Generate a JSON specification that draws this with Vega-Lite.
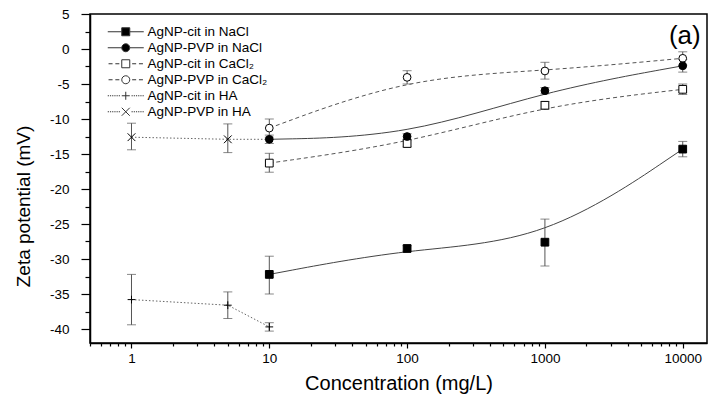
{
  "$schema": "https://vega.github.io/schema/vega-lite/v6.json",
  "width": 617,
  "height": 329,
  "autosize": {"type": "none"},
  "padding": {"left": 90, "top": 14, "right": 6, "bottom": 55},
  "background": "white",
  "config": {
    "font": "Liberation Sans",
    "view": {"stroke": "black", "strokeWidth": 1.5},
    "axis": {"grid": false, "domainColor": "black", "domainWidth": 1.5, "tickColor": "black", "tickWidth": 1.2, "labelColor": "black", "labelFontSize": 13.5, "titleColor": "black", "titleFontWeight": "normal", "labelFont": "Liberation Sans", "titleFont": "Liberation Sans"},
    "legend": {"labelFont": "Liberation Sans", "labelFontSize": 13.5, "labelColor": "black", "labelOffset": 15, "rowPadding": 1, "symbolSize": 64, "symbolStrokeColor": "#333", "symbolStrokeWidth": 1, "labelLimit": 300, "padding": 0}
  },
  "data": {
    "values": [
      {"series": "AgNP-cit in HA", "conc": 1, "zeta": -35.8, "lo": -39.4, "hi": -32.2},
      {"series": "AgNP-cit in HA", "conc": 5, "zeta": -36.6, "lo": -38.5, "hi": -34.7},
      {"series": "AgNP-cit in HA", "conc": 10, "zeta": -39.7, "lo": -40.3, "hi": -39.1},
      {"series": "AgNP-PVP in HA", "conc": 1, "zeta": -12.6, "lo": -14.4, "hi": -10.6},
      {"series": "AgNP-PVP in HA", "conc": 5, "zeta": -12.9, "lo": -14.8, "hi": -10.7},
      {"series": "AgNP-PVP in HA", "conc": 10, "zeta": -12.9, "lo": -13.3, "hi": -12.5},
      {"series": "AgNP-cit in CaCl₂", "conc": 10, "zeta": -16.3, "lo": -17.6, "hi": -14.9},
      {"series": "AgNP-cit in CaCl₂", "conc": 100, "zeta": -13.5, "lo": -14.0, "hi": -13.0},
      {"series": "AgNP-cit in CaCl₂", "conc": 1000, "zeta": -8.04, "lo": -8.6, "hi": -7.5},
      {"series": "AgNP-cit in CaCl₂", "conc": 10000, "zeta": -5.76, "lo": -6.5, "hi": -5.0},
      {"series": "AgNP-PVP in CaCl₂", "conc": 10, "zeta": -11.3, "lo": -12.6, "hi": -10.0},
      {"series": "AgNP-PVP in CaCl₂", "conc": 100, "zeta": -4.05, "lo": -5.0, "hi": -3.1},
      {"series": "AgNP-PVP in CaCl₂", "conc": 1000, "zeta": -3.14, "lo": -4.3, "hi": -1.9},
      {"series": "AgNP-PVP in CaCl₂", "conc": 10000, "zeta": -1.33, "lo": -2.3, "hi": -0.4},
      {"series": "AgNP-cit in NaCl", "conc": 10, "zeta": -32.2, "lo": -35.0, "hi": -29.6},
      {"series": "AgNP-cit in NaCl", "conc": 100, "zeta": -28.5, "lo": -28.9, "hi": -28.1},
      {"series": "AgNP-cit in NaCl", "conc": 1000, "zeta": -27.6, "lo": -31.0, "hi": -24.3},
      {"series": "AgNP-cit in NaCl", "conc": 10000, "zeta": -14.3, "lo": -15.4, "hi": -13.2},
      {"series": "AgNP-PVP in NaCl", "conc": 10, "zeta": -12.9, "lo": -13.5, "hi": -12.3},
      {"series": "AgNP-PVP in NaCl", "conc": 100, "zeta": -12.5, "lo": -12.9, "hi": -12.1},
      {"series": "AgNP-PVP in NaCl", "conc": 1000, "zeta": -5.96, "lo": -6.4, "hi": -5.5},
      {"series": "AgNP-PVP in NaCl", "conc": 10000, "zeta": -2.4, "lo": -3.3, "hi": -1.5}
    ]
  },
  "encoding": {
    "x": {
      "field": "conc", "type": "quantitative",
      "scale": {"type": "log", "domain": [0.5, 15000], "nice": false},
      "axis": {
        "title": "Concentration (mg/L)", "titleFontSize": 20, "titlePadding": 9,
        "values": [0.5,0.6,0.7,0.8,0.9,1,2,3,4,5,6,7,8,9,10,20,30,40,50,60,70,80,90,100,200,300,400,500,600,700,800,900,1000,2000,3000,4000,5000,6000,7000,8000,9000,10000],
        "labelExpr": "indexof([1,10,100,1000,10000], datum.value) >= 0 ? '' + datum.value : ''",
        "labelOverlap": false, "labelFlush": false, "labelPadding": 3,
        "tickSize": {"condition": {"test": "indexof([1,10,100,1000,10000], datum.value) >= 0", "value": 5}, "value": 3}
      }
    },
    "y": {
      "field": "zeta", "type": "quantitative",
      "scale": {"domain": [-42, 5], "nice": false, "zero": false},
      "axis": {
        "title": "Zeta potential (mV)", "titleFontSize": 19, "titlePadding": 16, "titleY": 192,
        "values": [-40,-37.5,-35,-32.5,-30,-27.5,-25,-22.5,-20,-17.5,-15,-12.5,-10,-7.5,-5,-2.5,0,2.5,5],
        "labelExpr": "datum.value % 5 == 0 ? '' + datum.value : ''",
        "labelPadding": 12, "labelOverlap": false,
        "tickSize": {"condition": {"test": "datum.value % 5 == 0", "value": 9}, "value": 5}
      }
    }
  },
  "layer": [
    {
      "transform": [{"filter": {"field": "series", "oneOf": ["AgNP-cit in NaCl", "AgNP-PVP in NaCl"]}}],
      "mark": {"type": "line", "interpolate": "basis", "color": "#444", "strokeWidth": 1},
      "encoding": {"detail": {"field": "series"}}
    },
    {
      "transform": [{"filter": {"field": "series", "oneOf": ["AgNP-cit in CaCl₂", "AgNP-PVP in CaCl₂"]}}],
      "mark": {"type": "line", "interpolate": "basis", "color": "#555", "strokeWidth": 1, "strokeDash": [4, 3]},
      "encoding": {"detail": {"field": "series"}}
    },
    {
      "transform": [{"filter": {"field": "series", "oneOf": ["AgNP-cit in HA", "AgNP-PVP in HA"]}}],
      "mark": {"type": "line", "interpolate": "linear", "color": "#666", "strokeWidth": 1, "strokeDash": [1.5, 2]},
      "encoding": {"detail": {"field": "series"}}
    },
    {
      "transform": [{"filter": "!(datum.series == 'AgNP-PVP in HA' && datum.conc == 10)"}],
      "mark": {"type": "errorbar", "ticks": {"size": 9}, "color": "#555", "thickness": 1},
      "encoding": {
        "y": {"field": "lo", "type": "quantitative", "title": "Zeta potential (mV)"},
        "y2": {"field": "hi"}
      }
    },
    {
      "transform": [{"filter": "!(datum.series == 'AgNP-PVP in HA' && datum.conc == 10)"}],
      "mark": {"type": "point", "stroke": "black", "strokeWidth": 1, "size": 60, "opacity": 1, "fillOpacity": 1},
      "encoding": {
        "shape": {"field": "series", "type": "nominal",
          "scale": {"domain": ["AgNP-cit in NaCl", "AgNP-PVP in NaCl", "AgNP-cit in CaCl₂", "AgNP-PVP in CaCl₂", "AgNP-cit in HA", "AgNP-PVP in HA"],
                    "range": ["square", "circle", "square", "circle", "M-1,0L1,0M0,-1L0,1", "M-1,-1L1,1M-1,1L1,-1"]},
          "legend": null},
        "fill": {"field": "series", "type": "nominal",
          "scale": {"domain": ["AgNP-cit in NaCl", "AgNP-PVP in NaCl", "AgNP-cit in CaCl₂", "AgNP-PVP in CaCl₂", "AgNP-cit in HA", "AgNP-PVP in HA"],
                    "range": ["black", "black", "white", "white", "transparent", "transparent"]},
          "legend": null}
      }
    },
    {
      "transform": [{"filter": "false"}],
      "mark": {"type": "point", "strokeWidth": 1, "size": 64, "opacity": 1, "fillOpacity": 1},
      "encoding": {
        "shape": {"field": "series", "type": "nominal",
          "scale": {"domain": ["AgNP-cit in NaCl", "AgNP-PVP in NaCl", "AgNP-cit in CaCl₂", "AgNP-PVP in CaCl₂", "AgNP-cit in HA", "AgNP-PVP in HA"],
                    "range": [
                      "M-4.5,0L-1,0M1,0L4.5,0M-1,-1L1,-1L1,1L-1,1Z",
                      "M-4.5,0L-1,0M1,0L4.5,0M-1,0A1,1,0,1,0,1,0A1,1,0,1,0,-1,0Z",
                      "M-4.3,0L-3.3,0M-2.6,0L-1.6,0M1.6,0L2.6,0M3.3,0L4.3,0M-1,-1L1,-1L1,1L-1,1Z",
                      "M-4.3,0L-3.3,0M-2.6,0L-1.6,0M1.6,0L2.6,0M3.3,0L4.3,0M-1,0A1,1,0,1,0,1,0A1,1,0,1,0,-1,0Z",
                      "M-4.5,0L-4.2,0M-3.95,0L-3.65,0M-3.4,0L-3.1,0M-2.85,0L-2.55,0M-2.3,0L-2,0M-1.75,0L-1.45,0M1.45,0L1.75,0M2,0L2.3,0M2.55,0L2.85,0M3.1,0L3.4,0M3.65,0L3.95,0M4.2,0L4.5,0M-1,0L1,0M0,-1L0,1",
                      "M-4.5,0L-4.2,0M-3.95,0L-3.65,0M-3.4,0L-3.1,0M-2.85,0L-2.55,0M-2.3,0L-2,0M-1.75,0L-1.45,0M1.45,0L1.75,0M2,0L2.3,0M2.55,0L2.85,0M3.1,0L3.4,0M3.65,0L3.95,0M4.2,0L4.5,0M-1,-1L1,1M-1,1L1,-1"
                    ]},
          "legend": {"orient": "none", "legendX": 29, "legendY": 11, "title": null, "labelFontSize": 13.5, "labelOffset": 15, "rowPadding": 1}},
        "fill": {"field": "series", "type": "nominal",
          "scale": {"domain": ["AgNP-cit in NaCl", "AgNP-PVP in NaCl", "AgNP-cit in CaCl₂", "AgNP-PVP in CaCl₂", "AgNP-cit in HA", "AgNP-PVP in HA"],
                    "range": ["black", "black", "white", "white", "transparent", "transparent"]},
          "legend": {"orient": "none", "legendX": 29, "legendY": 11, "title": null, "labelFontSize": 13.5, "labelOffset": 15, "rowPadding": 1}},
        "stroke": {"field": "series", "type": "nominal",
          "scale": {"domain": ["AgNP-cit in NaCl", "AgNP-PVP in NaCl", "AgNP-cit in CaCl₂", "AgNP-PVP in CaCl₂", "AgNP-cit in HA", "AgNP-PVP in HA"],
                    "range": ["#333", "#333", "#333", "#333", "#333", "#333"]},
          "legend": {"orient": "none", "legendX": 29, "legendY": 11, "title": null, "labelFontSize": 13.5, "labelOffset": 15, "rowPadding": 1}}
      }
    },
    {
      "mark": {"type": "text", "text": "(a)", "fontSize": 26, "font": "Liberation Sans", "align": "right", "baseline": "middle", "fill": "black", "opacity": 1, "dx": 18, "dy": -22},
      "encoding": {
        "x": {"aggregate": "max", "field": "conc", "type": "quantitative"},
        "y": {"aggregate": "max", "field": "zeta", "type": "quantitative"}
      }
    }
  ],
  "resolve": {"scale": {"shape": "independent", "fill": "independent", "stroke": "independent"}}
}
